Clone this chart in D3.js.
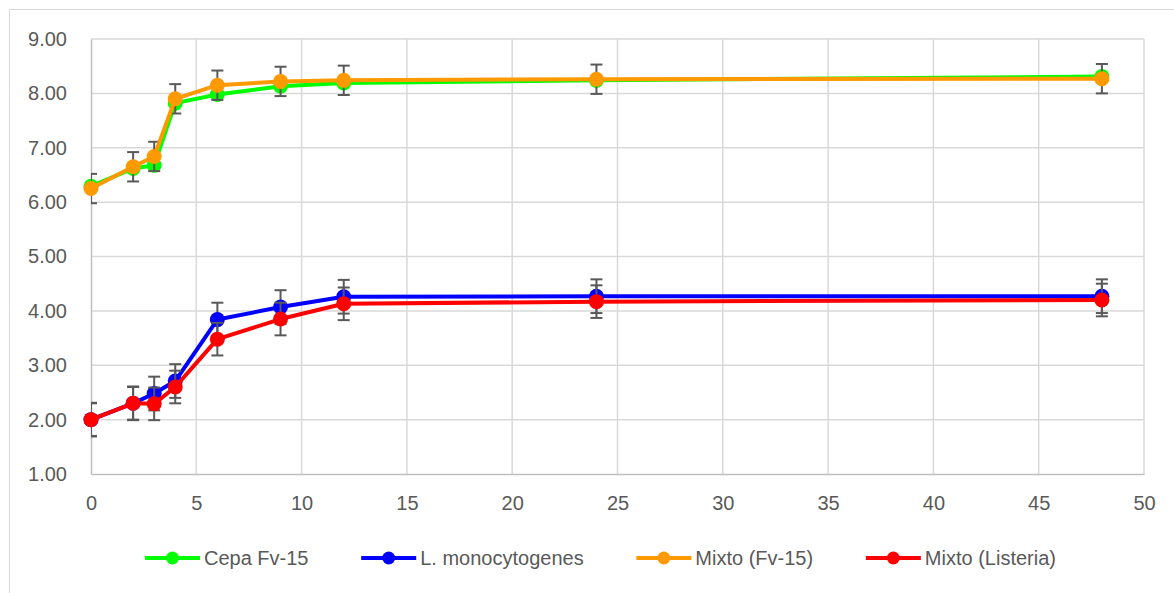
<!DOCTYPE html>
<html>
<head>
<meta charset="utf-8">
<script src="https://cdn.jsdelivr.net/npm/d3@7"></script>
<style>
  html, body { margin: 0; padding: 0; background: #fff; }
  svg { display: block; font-family: "Liberation Sans", Arial, sans-serif; }
</style>
</head>
<body>
<svg id="chart" width="1174" height="593"></svg>
<script>
// Sampling times (h)
const times = [0, 2, 3, 4, 6, 9, 12, 24, 48];

// Series means (log CFU)
const cepaFv15   = [6.29, 6.62, 6.68, 7.82, 7.98, 8.13, 8.19, 8.24, 8.31];
const lMono      = [2.00, 2.30, 2.48, 2.71, 3.84, 4.07, 4.26, 4.27, 4.27];
const mixtoFv15  = [6.25, 6.65, 6.84, 7.90, 8.15, 8.22, 8.24, 8.26, 8.27];
const mixtoList  = [2.00, 2.30, 2.29, 2.60, 3.48, 3.85, 4.13, 4.17, 4.20];

// Error bar half-widths (null = no error bar for that series)
const errCepa   = null;
const errLMono  = [0.31, 0.31, 0.31, 0.31, 0.31, 0.31, 0.31, 0.31, 0.31];
const errMixFv  = [0.27, 0.27, 0.27, 0.27, 0.27, 0.27, 0.27, 0.27, 0.27];
const errMixL   = [0.30, 0.30, 0.30, 0.30, 0.30, 0.30, 0.30, 0.30, 0.30];

const seriesNames = ["Cepa Fv-15", "L. monocytogenes", "Mixto (Fv-15)", "Mixto (Listeria)"];
const seriesColors = ["#00ff00", "#0000ff", "#ff9900", "#ff0000"];

const xTicks = [0, 5, 10, 15, 20, 25, 30, 35, 40, 45, 50];
const yTicks = [1, 2, 3, 4, 5, 6, 7, 8, 9];

const series = [
  { name: seriesNames[0], color: seriesColors[0], values: cepaFv15,  err: errCepa },
  { name: seriesNames[1], color: seriesColors[1], values: lMono,     err: errLMono },
  { name: seriesNames[2], color: seriesColors[2], values: mixtoFv15, err: errMixFv },
  { name: seriesNames[3], color: seriesColors[3], values: mixtoList, err: errMixL }
];

const svg = d3.select("#chart");
const textColor = "#595959";
const fontSize = 20;

// Outer chart frame
svg.append("rect")
  .attr("x", 9.5).attr("y", 9.5)
  .attr("width", 1180).attr("height", 600)
  .attr("fill", "none").attr("stroke", "#d9d9d9").attr("stroke-width", 1);

const plot = { left: 91, right: 1144, top: 39, bottom: 474 };

const x = d3.scaleLinear().domain([0, 50]).range([plot.left, plot.right]);
const y = d3.scaleLinear().domain([1, 9]).range([plot.bottom, plot.top]);

// Gridlines
const grid = svg.append("g");
grid.selectAll("line.h").data(yTicks.filter(d => d > 1)).join("line")
  .attr("x1", plot.left).attr("x2", plot.right)
  .attr("y1", d => y(d)).attr("y2", d => y(d))
  .attr("stroke", "#d9d9d9").attr("stroke-width", 1.5);
grid.selectAll("line.v").data(xTicks.filter(d => d > 0)).join("line")
  .attr("x1", d => x(d)).attr("x2", d => x(d))
  .attr("y1", plot.top).attr("y2", plot.bottom)
  .attr("stroke", "#d9d9d9").attr("stroke-width", 1.5);

// Axes
const yAxis = svg.append("g")
  .attr("transform", `translate(${plot.left},0)`)
  .call(d3.axisLeft(y).tickValues(yTicks).tickFormat(d3.format(".2f")).tickSize(0).tickPadding(24));
const xAxis = svg.append("g")
  .attr("transform", `translate(0,${plot.bottom})`)
  .call(d3.axisBottom(x).tickValues(xTicks).tickFormat(d3.format("d")).tickSize(0).tickPadding(22));

[yAxis, xAxis].forEach(a => {
  a.select(".domain").attr("stroke", "#bfbfbf").attr("stroke-width", 1.5);
  a.selectAll("text")
    .attr("fill", textColor)
    .attr("font-size", fontSize)
    .attr("font-family", "Liberation Sans, Arial, sans-serif");
});

// Clip for error bars (kept inside the plot area)
svg.append("defs").append("clipPath").attr("id", "plotClip")
  .append("rect")
  .attr("x", plot.left).attr("y", plot.top)
  .attr("width", plot.right - plot.left).attr("height", plot.bottom - plot.top);

const line = d3.line().x(d => x(d.t)).y(d => y(d.v));
const capHalf = 6;

series.forEach(s => {
  const pts = times.map((t, i) => ({ t, v: s.values[i], e: s.err ? s.err[i] : null }));
  const g = svg.append("g");

  // Error bars
  if (s.err) {
    const eb = g.append("g").attr("clip-path", "url(#plotClip)")
      .attr("stroke", "#595959").attr("stroke-width", 2).attr("fill", "none");
    pts.forEach(p => {
      const cx = x(p.t), y1 = y(p.v + p.e), y2 = y(p.v - p.e);
      eb.append("line").attr("x1", cx).attr("x2", cx).attr("y1", y1).attr("y2", y2);
      eb.append("line").attr("x1", cx - capHalf).attr("x2", cx + capHalf).attr("y1", y1).attr("y2", y1);
      eb.append("line").attr("x1", cx - capHalf).attr("x2", cx + capHalf).attr("y1", y2).attr("y2", y2);
    });
  }

  // Line
  g.append("path").datum(pts)
    .attr("d", line)
    .attr("fill", "none")
    .attr("stroke", s.color)
    .attr("stroke-width", 4)
    .attr("stroke-linejoin", "round");

  // Markers
  g.selectAll("circle").data(pts).join("circle")
    .attr("cx", d => x(d.t)).attr("cy", d => y(d.v))
    .attr("r", 7.5)
    .attr("fill", s.color);
});

// Legend: spread across a fixed span below the plot
const legendY = 558;
const legendStart = 145, legendEnd = 1056;
const swatch = 55, textGap = 4;
const legend = svg.append("g");
const items = series.map(s => {
  const g = legend.append("g");
  g.append("line").attr("x1", 0).attr("x2", swatch).attr("y1", 0).attr("y2", 0)
    .attr("stroke", s.color).attr("stroke-width", 4);
  g.append("circle").attr("cx", swatch / 2).attr("cy", 0).attr("r", 6.5).attr("fill", s.color);
  const t = g.append("text").attr("x", swatch + textGap).attr("y", 0).attr("dy", "0.35em")
    .attr("fill", textColor).attr("font-size", fontSize).text(s.name);
  return { g, w: swatch + textGap + t.node().getComputedTextLength() };
});
const itemGap = (legendEnd - legendStart - d3.sum(items, d => d.w)) / (items.length - 1);
let cursor = legendStart;
items.forEach(it => {
  it.g.attr("transform", `translate(${cursor},${legendY})`);
  cursor += it.w + itemGap;
});
</script>
</body>
</html>
